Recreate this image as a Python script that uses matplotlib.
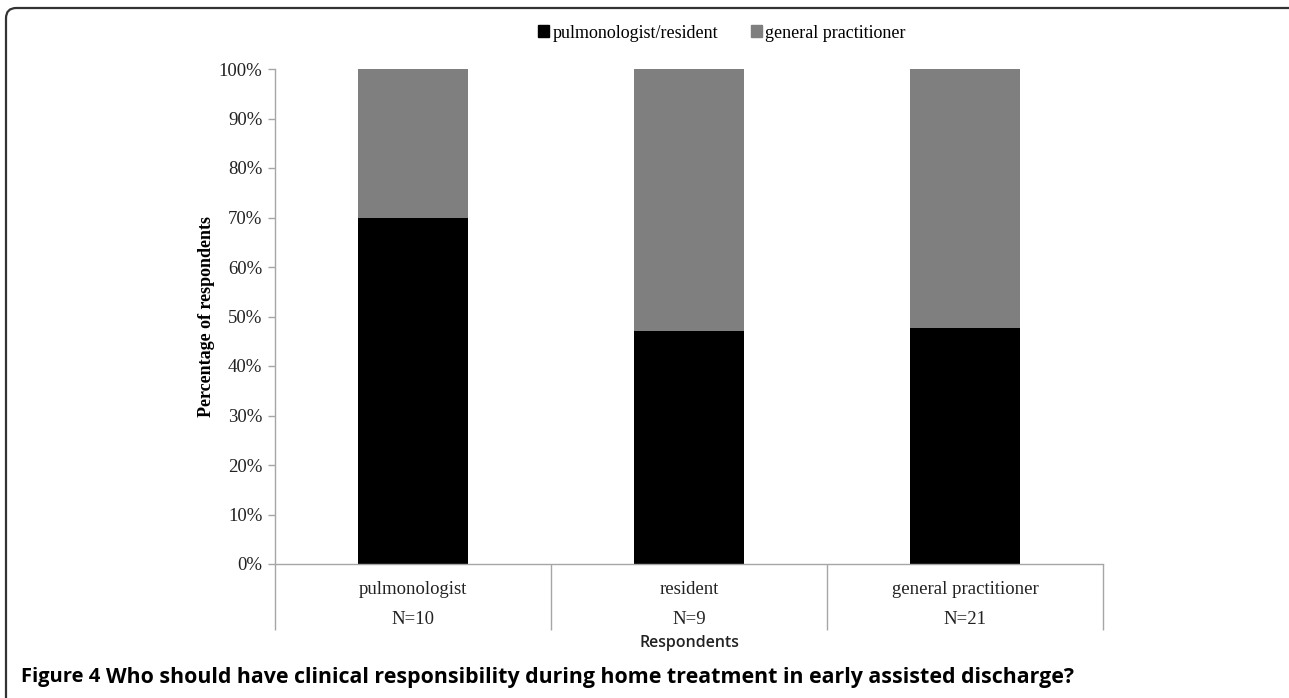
import matplotlib.pyplot as plt
from matplotlib.patches import Patch, FancyBboxPatch

# data
categories = ["pulmonologist", "resident", "general practitioner"]
counts = ["N=10", "N=9", "N=21"]
pulm_resident = [70.0, 47.1, 47.6]
general_pract = [30.0, 52.9, 52.4]
series_names = ["pulmonologist/resident", "general practitioner"]
yticks = [0, 10, 20, 30, 40, 50, 60, 70, 80, 90, 100]

W, H = 1289, 698
fig = plt.figure(figsize=(W / 100, H / 100), dpi=100)
serif = "Liberation Serif"
fs = 13.5

# axes box in pixels
ax = fig.add_axes([275 / W, 1 - 564 / H, (1103 - 275) / W, (564 - 69) / H])

x = list(range(len(categories)))
bw = 0.4
ax.bar(x, pulm_resident, bw, color="#000000", label=series_names[0])
ax.bar(x, general_pract, bw, bottom=pulm_resident, color="#7f7f7f", label=series_names[1])

ax.set_xlim(-0.5, len(categories) - 0.5)
ax.set_ylim(0, 100)
ax.set_yticks(yticks)
ax.set_yticklabels([f"{v}%" for v in yticks], fontfamily=serif, fontsize=fs, color="#222222")

# category labels with N below, separators as long minor ticks
ax.set_xticks(x)
ax.set_xticklabels([f"{c}\n{n}" for c, n in zip(categories, counts)],
                   fontfamily=serif, fontsize=fs, color="#222222", linespacing=2.05)
ax.set_xticks([i - 0.5 for i in range(len(categories) + 1)], minor=True)
ax.tick_params(axis="x", which="major", length=0, pad=12)
ax.tick_params(axis="x", which="minor", length=66 * 0.72, color="#a6a6a6", width=1)
ax.tick_params(axis="y", length=5, color="#a6a6a6", width=1, pad=4)

for s in ["top", "right"]:
    ax.spines[s].set_visible(False)
for s in ["left", "bottom"]:
    ax.spines[s].set_color("#a6a6a6")
    ax.spines[s].set_linewidth(1)

ax.set_ylabel("Percentage of respondents", fontfamily=serif, fontsize=13,
              fontweight="bold", labelpad=3)
fig.text(689 / W, 1 - 643 / H, "Respondents", fontfamily="Open Sans", fontsize=11.5,
         fontweight="semibold", color="#222222", ha="center", va="center")

handles = [Patch(color="#000000"), Patch(color="#7f7f7f")]
fig.legend(handles, series_names, loc="center", bbox_to_anchor=(722 / W, 1 - 33 / H),
           ncol=2, frameon=False, handlelength=0.6, handleheight=0.6,
           handletextpad=0.2, columnspacing=1.8, prop={"family": serif, "size": 13})

# caption
fig.text(21 / W, 1 - 677 / H, "Figure 4", fontfamily="Open Sans", fontweight="bold",
         fontsize=14.5, va="center", ha="left")
fig.text(106 / W, 1 - 677 / H,
         "Who should have clinical responsibility during home treatment in early assisted discharge?",
         fontfamily="Open Sans", fontweight="bold", fontsize=15.4, va="center", ha="left")

# rounded frame around the figure, running off right/bottom edges
frame = FancyBboxPatch((6 / W, -20 / H), (W + 20 - 6) / W, (H + 20 - 8) / H,
                       boxstyle="round,pad=0,rounding_size=0.008",
                       transform=fig.transFigure, fill=False, ec="#333333", lw=1.6,
                       clip_on=False, mutation_aspect=W / H)
fig.patches.append(frame)

fig.savefig("out.png", dpi=100)
